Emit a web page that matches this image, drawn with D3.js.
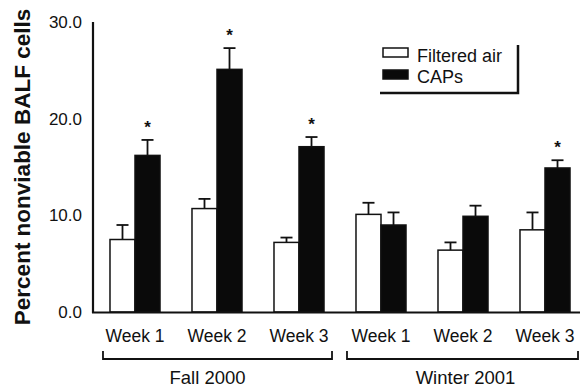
<!DOCTYPE html>
<html><head><meta charset="utf-8">
<script src="https://cdn.jsdelivr.net/npm/d3@7"></script>
<style>
html,body{margin:0;padding:0;background:#fff;}
svg{display:block;}
text{font-family:"Liberation Sans",Arial,Helvetica,sans-serif;fill:#111;}
</style></head>
<body>
<svg id="chart" width="580" height="387"></svg>
<script>
const weeks = ["Week 1","Week 2","Week 3","Week 1","Week 2","Week 3"];
const seasonOf = ["Fall 2000","Fall 2000","Fall 2000","Winter 2001","Winter 2001","Winter 2001"];
const seasons = ["Fall 2000","Winter 2001"];
const filteredAir = [7.5, 10.7, 7.2, 10.1, 6.4, 8.5];
const filteredErr = [1.5, 1.0, 0.5, 1.2, 0.8, 1.8];
const capsVals = [16.2, 25.1, 17.1, 9.0, 9.9, 14.9];
const capsErr = [1.6, 2.2, 1.0, 1.3, 1.1, 0.8];
const significant = [true, true, true, false, false, true];
const yTicks = [0, 10, 20, 30];
const seriesNames = ["Filtered air", "CAPs"];

const svg = d3.select("#chart");
const keys = weeks.map((w,i)=> seasonOf[i] + "|" + w);

const x = d3.scaleBand().domain(keys).range([94, 586]).paddingInner(0.39).paddingOuter(0.195);
const xs = d3.scaleBand().domain(seriesNames).range([0, x.bandwidth()]).padding(0);
const y = d3.scaleLinear().domain([0, 30]).range([312, 22]);

// y tick labels
svg.append("g").selectAll("text").data(yTicks).join("text")
  .attr("x", 82).attr("y", d => y(d)).attr("dy", "0.36em")
  .attr("text-anchor", "end").attr("font-size", 17)
  .text(d => d.toFixed(1));

// y axis label
svg.append("text")
  .attr("transform", "translate(30,167) rotate(-90)")
  .attr("text-anchor", "middle").attr("font-size", 22.5).attr("font-weight", "bold")
  .text("Percent nonviable BALF cells");

const rows = keys.map((k,i)=>({k, i, vals:[
  {s:seriesNames[0], v:filteredAir[i], e:filteredErr[i]},
  {s:seriesNames[1], v:capsVals[i], e:capsErr[i]}]}));

const g = svg.append("g");
const grp = g.selectAll("g.grp").data(rows).join("g").attr("class","grp")
  .attr("transform", d => "translate(" + x(d.k) + ",0)");

// error bars (upper only)
grp.selectAll("g.err").data(d => d.vals).join("g").attr("class","err").each(function(d){
  const cx = xs(d.s) + xs.bandwidth()/2;
  const s = d3.select(this);
  s.append("line").attr("x1", cx).attr("x2", cx).attr("y1", y(d.v)).attr("y2", y(d.v + d.e))
    .attr("stroke", "#111").attr("stroke-width", 1.8);
  s.append("line").attr("x1", cx - 6).attr("x2", cx + 6).attr("y1", y(d.v + d.e)).attr("y2", y(d.v + d.e))
    .attr("stroke", "#111").attr("stroke-width", 1.8);
});

grp.selectAll("rect").data(d => d.vals).join("rect")
  .attr("x", d => xs(d.s)).attr("width", xs.bandwidth())
  .attr("y", d => y(d.v)).attr("height", d => y(0) - y(d.v))
  .attr("fill", d => d.s === "CAPs" ? "#0a0a0a" : "#fff")
  .attr("stroke", "#111").attr("stroke-width", 1.5);

// asterisks
grp.filter(d => significant[d.i]).append("text")
  .attr("x", xs("CAPs") + xs.bandwidth()/2)
  .attr("y", d => y(capsVals[d.i] + capsErr[d.i]) - 7)
  .attr("text-anchor", "middle").attr("font-size", 17).attr("font-weight", "bold")
  .text("*");

// axes lines
svg.append("line").attr("x1", 93).attr("x2", 93).attr("y1", y(30)).attr("y2", y(0) + 1)
  .attr("stroke", "#111").attr("stroke-width", 2.2);
svg.append("line").attr("x1", 92).attr("x2", 580).attr("y1", y(0) + 0.5).attr("y2", y(0) + 0.5)
  .attr("stroke", "#111").attr("stroke-width", 2.2);

// week labels
svg.append("g").selectAll("text").data(keys).join("text")
  .attr("x", d => x(d) + x.bandwidth()/2).attr("y", 342)
  .attr("text-anchor", "middle").attr("font-size", 17.5)
  .text((d,i) => weeks[i]);

// season brackets
const brackets = seasons.map(s => {
  const ks = keys.filter((k,i)=> seasonOf[i] === s);
  return {s, x0: x(ks[0]), x1: x(ks[ks.length-1]) + x.bandwidth()};
});
brackets[0].x0 -= 7; brackets[0].x1 += 8;
brackets[1].x0 -= 9; brackets[1].x1 += 8;
const bg = svg.append("g");
bg.selectAll("path").data(brackets).join("path")
  .attr("d", d => "M" + d.x0 + ",351 V359 H" + d.x1 + " V351")
  .attr("fill", "none").attr("stroke", "#111").attr("stroke-width", 1.8);
bg.selectAll("text").data(brackets).join("text")
  .attr("x", d => (d.x0 + d.x1)/2 + (d.s === "Fall 2000" ? -10 : 3)).attr("y", 384)
  .attr("text-anchor", "middle").attr("font-size", 18.5)
  .text(d => d.s);

// legend
const lg = svg.append("g");
lg.append("path").attr("d", "M380,93 H518 V45").attr("fill","none").attr("stroke","#111").attr("stroke-width", 2.5);
lg.selectAll("rect").data(seriesNames).join("rect")
  .attr("x", 383).attr("y", (d,i) => 48 + i*22).attr("width", 25).attr("height", 9)
  .attr("fill", d => d === "CAPs" ? "#0a0a0a" : "#fff").attr("stroke", "#111").attr("stroke-width", 1.5);
lg.selectAll("text").data(seriesNames).join("text")
  .attr("x", 417).attr("y", (d,i) => 62 + i*21)
  .attr("font-size", 18)
  .text(d => d);
</script>
</body></html>
